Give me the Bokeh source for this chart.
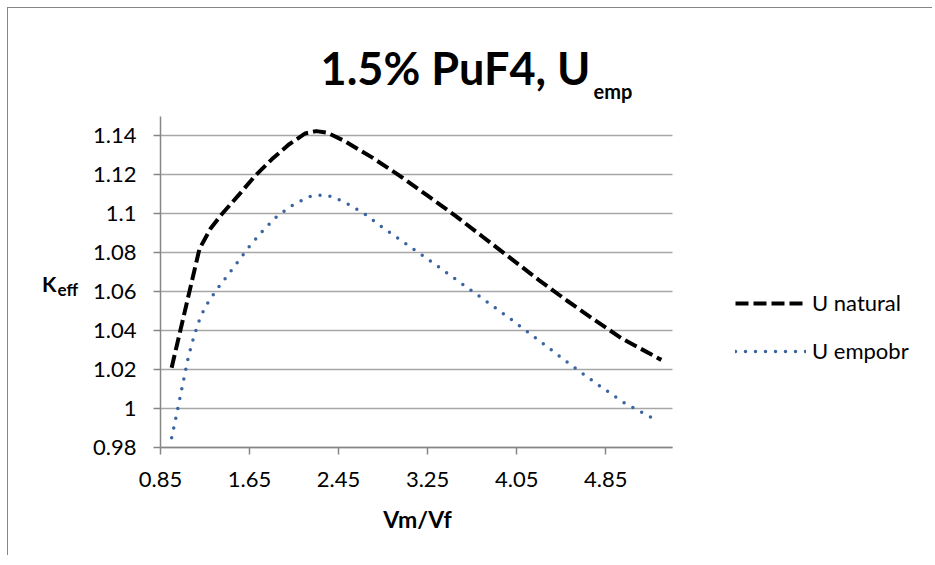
from bokeh.plotting import figure
from bokeh.models import Range1d, FixedTicker, Label, Legend, LegendItem
from bokeh.embed import file_html
from bokeh.resources import INLINE

# ---- data ----
x_natural = [0.95, 1.2, 1.3, 1.4, 1.55, 1.7, 1.85, 2.0, 2.15, 2.25, 2.35, 2.5,
             2.75, 3.0, 3.25, 3.5, 3.75, 4.0, 4.25, 4.5, 4.75, 5.0, 5.35]
y_natural = [1.021, 1.082, 1.0925, 1.0998, 1.1095, 1.1195, 1.128, 1.1355,
             1.1413, 1.1425, 1.1416, 1.1375, 1.129, 1.1195, 1.1093, 1.099,
             1.088, 1.077, 1.066, 1.0555, 1.0455, 1.0358, 1.025]

x_empobr = [0.95, 1.0, 1.05, 1.1, 1.15, 1.2, 1.25, 1.35, 1.45, 1.55, 1.65,
            1.78, 1.9, 2.05, 2.2, 2.3, 2.4, 2.55, 2.7, 2.85, 3.0, 3.25, 3.5,
            3.75, 4.0, 4.25, 4.5, 4.75, 5.0, 5.3]
y_empobr = [0.985, 0.9985, 1.0125, 1.0265, 1.037, 1.0455, 1.052, 1.0607,
            1.0682, 1.0758, 1.0834, 1.092, 1.099, 1.105, 1.109, 1.1097,
            1.1087, 1.1046, 1.0994, 1.0928, 1.0868, 1.0768, 1.0665, 1.0562,
            1.0458, 1.035, 1.024, 1.0135, 1.0035, 0.9942]

series_names = ["U natural", "U empobr"]
x_ticks = [0.85, 1.65, 2.45, 3.25, 4.05, 4.85]
x_tick_labels = ["0.85", "1.65", "2.45", "3.25", "4.05", "4.85"]
y_ticks = [0.98, 1.0, 1.02, 1.04, 1.06, 1.08, 1.1, 1.12, 1.14]
y_tick_labels = ["0.98", "1", "1.02", "1.04", "1.06", "1.08", "1.1", "1.12", "1.14"]
x_axis_min, x_axis_max = 0.85, 5.45
y_axis_min, y_axis_max = 0.98, 1.15
title_main = "1.5% PuF4, U"
title_sub = "emp"
y_label_main = "K"
y_label_sub = "eff"
x_label = "Vm/Vf"

FONT = "Lato"
AXIS_COLOR = "#868686"
GRID_COLOR = "#A6A6A6"

# ---- layout (page pixels) ----
CANVAS_X0, CANVAS_Y0 = 8, 8          # canvas top-left on the page
W, H = 925, 548
PA_LEFT, PA_RIGHT, PA_TOP, PA_BOTTOM = 160, 672, 116, 447   # plot area
BASELINE_FIX = 0.42                  # empirical shift of Bokeh's alphabetic baseline

sx = (PA_RIGHT - PA_LEFT) / (x_axis_max - x_axis_min)
sy = (PA_BOTTOM - PA_TOP) / (y_axis_max - y_axis_min)
x_start = x_axis_min - (PA_LEFT - CANVAS_X0) / sx
x_end = x_axis_min + (CANVAS_X0 + W - PA_LEFT) / sx
y_end = y_axis_max + (PA_TOP - CANVAS_Y0) / sy
y_start = y_axis_min - (CANVAS_Y0 + H - PA_BOTTOM) / sy

def scr(px, py):
    """page pixel -> frame screen units (origin bottom-left of canvas)"""
    return px - CANVAS_X0, (CANVAS_Y0 + H) - py

p = figure(width=W, height=H, title=None,
           x_range=Range1d(x_start, x_end), y_range=Range1d(y_start, y_end),
           output_backend="svg", toolbar_location=None, min_border=0)
p.styles = {"margin-left": "7px", "margin-top": "7px",
            "border-top": "1px solid #868686", "border-left": "1px solid #868686"}
p.outline_line_color = None
p.background_fill_color = "white"
p.border_fill_color = "white"

p.xgrid.visible = False
p.ygrid.grid_line_color = GRID_COLOR
p.ygrid.grid_line_width = 1.5
try:
    p.ygrid.cross_bounds = (x_axis_min, x_axis_max)
    use_grid = True
except Exception:
    use_grid = False
if not use_grid:
    p.ygrid.visible = False
    p.segment(x0=[x_axis_min] * len(y_ticks), y0=y_ticks,
              x1=[x_axis_max] * len(y_ticks), y1=y_ticks,
              line_color=GRID_COLOR, line_width=1.5)

for ax in (p.xaxis[0], p.yaxis[0]):
    ax.axis_line_color = AXIS_COLOR
    ax.axis_line_width = 1.5
    ax.major_tick_line_color = AXIS_COLOR
    ax.major_tick_line_width = 1.5
    ax.major_tick_in = 0
    ax.major_tick_out = 7
    ax.minor_tick_line_color = None
    ax.major_label_text_font = FONT
    ax.major_label_text_font_size = "22px"
    ax.major_label_text_color = "black"

p.xaxis.fixed_location = y_axis_min
p.xaxis.bounds = (x_axis_min, x_axis_max)
p.xaxis.ticker = FixedTicker(ticks=x_ticks)
p.xaxis.major_label_overrides = {t: l for t, l in zip(x_ticks, x_tick_labels)}
p.xaxis.major_label_standoff = 17

p.yaxis.fixed_location = x_axis_min
p.yaxis.bounds = (y_axis_min, y_axis_max)
p.yaxis.ticker = FixedTicker(ticks=y_ticks)
p.yaxis.major_label_overrides = {t: l for t, l in zip(y_ticks, y_tick_labels)}
p.yaxis.major_label_standoff = 17

r_nat = p.line(x_natural, y_natural, line_color="black", line_width=4,
               line_dash="13 5", line_cap="butt", line_join="round")
r_emp = p.line(x_empobr, y_empobr, line_color="#3A64A0", line_width=3.5,
               line_dash="0 10", line_cap="round", line_join="round")

lx, ly = scr(735, 364)
legend = Legend(items=[LegendItem(label=series_names[0], renderers=[r_nat]),
                       LegendItem(label=series_names[1], renderers=[r_emp])],
                location=(lx, ly), orientation="vertical")
legend.padding = 0
legend.margin = 0
legend.spacing = 21
legend.glyph_width = 71
legend.glyph_height = 26
legend.label_height = 26
legend.label_standoff = 6
legend.border_line_color = None
legend.background_fill_alpha = 0
legend.label_text_font = FONT
legend.label_text_font_size = "22px"
legend.label_text_color = "black"
p.add_layout(legend)

def lab(text, px, py, size, align="left", bold=True):
    """px, py: page position of the text's baseline anchor; size in px"""
    x, y = scr(px, py - BASELINE_FIX * size)
    p.add_layout(Label(x=x, y=y, x_units="screen", y_units="screen", text=text,
                       text_font=FONT, text_font_size=f"{size}px",
                       text_font_style="bold" if bold else "normal",
                       text_align=align, text_baseline="alphabetic",
                       text_color="black"))

lab(title_main, 590, 86, 45, align="right")
lab(title_sub, 593, 99, 20, align="left")
lab(y_label_main, 56, 292, 21, align="right")
lab(y_label_sub, 57, 296.5, 17, align="left")
lab(x_label, 417, 528, 23, align="center")

open("out.html", "w").write(file_html(p, INLINE))
